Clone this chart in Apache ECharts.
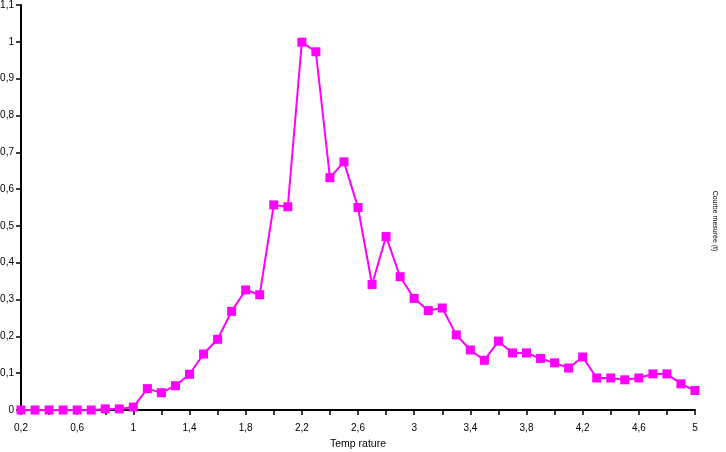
<!DOCTYPE html>
<html>
<head>
<meta charset="utf-8">
<script src="https://cdn.jsdelivr.net/npm/echarts@6/dist/echarts.min.js"></script>
<style>html,body{margin:0;padding:0;background:#fff}#c{width:726px;height:452px}</style>
</head>
<body>
<div id="c"></div>
<script>
var temperatures = [0.2,0.3,0.4,0.5,0.6,0.7,0.8,0.9,1.0,1.1,1.2,1.3,1.4,1.5,1.6,1.7,1.8,1.9,2.0,2.1,2.2,2.3,2.4,2.5,2.6,2.7,2.8,2.9,3.0,3.1,3.2,3.3,3.4,3.5,3.6,3.7,3.8,3.9,4.0,4.1,4.2,4.3,4.4,4.5,4.6,4.7,4.8,4.9,5.0];
var values = [0,0,0,0,0,0,0.003,0.003,0.008,0.058,0.047,0.066,0.097,0.152,0.192,0.268,0.326,0.313,0.557,0.552,0.999,0.973,0.631,0.674,0.550,0.341,0.471,0.362,0.303,0.270,0.277,0.204,0.163,0.135,0.187,0.155,0.155,0.140,0.128,0.114,0.144,0.087,0.087,0.082,0.087,0.098,0.098,0.071,0.053];
var xAxisTitle = 'Temp rature';
var sideLabel = 'Courbe mesurée (t)';

var points = temperatures.map(function (t, i) { return [t, values[i]]; });
function comma(v) { return String(+v.toFixed(2)).replace('.', ','); }

var chart = echarts.init(document.getElementById('c'), null, {renderer: 'canvas'});
chart.setOption({
  animation: false,
  backgroundColor: '#fff',
  grid: {left: 21, right: 31, top: 5, bottom: 42, containLabel: false, outerBoundsMode: 'none'},
  xAxis: {
    type: 'value', min: 0.2, max: 5, interval: 0.2,
    name: xAxisTitle, nameLocation: 'middle', nameGap: 29,
    nameTextStyle: {fontFamily: 'Liberation Sans', fontSize: 10.5, color: '#000'},
    splitLine: {show: false},
    axisLine: {lineStyle: {color: '#000', width: 2}},
    axisTick: {length: 5, lineStyle: {color: '#000', width: 1.5}},
    axisLabel: {
      margin: 13, color: '#000', fontFamily: 'Liberation Sans', fontSize: 10,
      formatter: function (v) {
        var k = Math.round((v - 0.2) / 0.2);
        return k % 2 === 0 ? comma(v) : '';
      }
    }
  },
  yAxis: {
    type: 'value', min: 0, max: 1.1, interval: 0.1,
    splitLine: {show: false},
    axisLine: {show: true, lineStyle: {color: '#000', width: 2}},
    axisTick: {show: true, length: 5, lineStyle: {color: '#000', width: 1.5}},
    axisLabel: {margin: 7, color: '#000', fontFamily: 'Liberation Sans', fontSize: 10,
      formatter: function (v) { return comma(v); }}
  },
  graphic: [{
    type: 'text', x: 715, y: 221, rotation: -Math.PI / 2,
    style: {text: sideLabel, fill: '#000', font: '7px "Liberation Sans"', align: 'center', verticalAlign: 'middle'}
  }],
  series: [{
    type: 'line', data: points,
    symbol: 'rect', symbolSize: 9, showAllSymbol: true,
    itemStyle: {color: '#ff00ff'},
    lineStyle: {color: '#ff00ff', width: 2}
  }]
});
</script>
</body>
</html>
